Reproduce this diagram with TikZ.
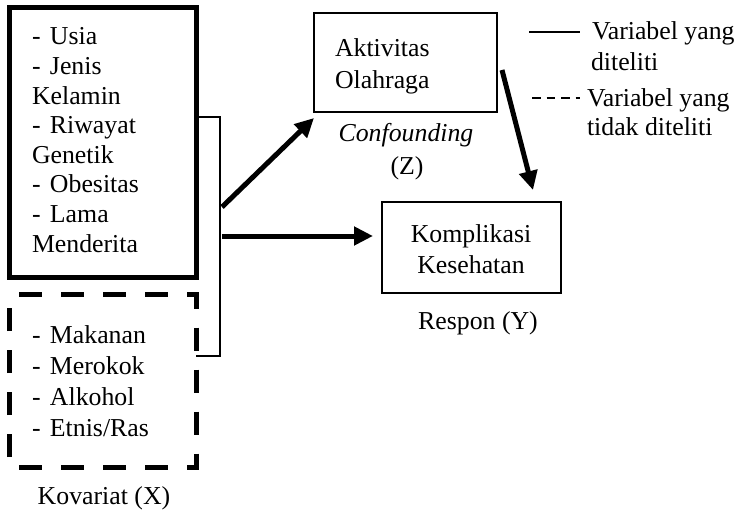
\documentclass[tikz,border=0pt]{standalone}
\usepackage{fontspec}
\setmainfont{Liberation Serif}
\usetikzlibrary{arrows.meta}
\begin{document}
\begin{tikzpicture}[x=1pt,y=-1pt,
  every node/.style={inner sep=0pt, outer sep=0pt},
  txt/.style={font=\fontsize{25.8}{30}\selectfont, anchor=base west},
  txtc/.style={font=\fontsize{25.8}{30}\selectfont, anchor=base},
  thickbox/.style={draw, line width=5pt, rectangle},
  dashbox/.style={line width=5pt, dash pattern=on 23pt off 19pt, dash phase=32.5pt},
  thinbox/.style={draw, line width=1.3pt, rectangle},
  thinline/.style={line width=1.3pt},
  legdash/.style={line width=1.3pt, dash pattern=on 8.5pt off 6pt},
  arr/.style={line width=5pt, -{Triangle[length=19pt,width=18pt]}},
]
\useasboundingbox (0,0) rectangle (744,513);

% boxes
\node[thickbox, minimum width=186.5pt, minimum height=269.5pt] (obs) at (102.75,142.25) {};
\node[minimum width=186.5pt, minimum height=172.5pt] (dbx) at (102.75,380.75) {};
\draw[dashbox] (dbx.north west) -- (dbx.north east) -- (dbx.south east) -- (dbx.south west) -- cycle;
\node[thinbox, minimum width=183pt, minimum height=99pt] (akt) at (405.5,62.5) {};
\node[thinbox, minimum width=179pt, minimum height=91pt] (kom) at (471.5,247.5) {};

% left box texts
\node[txt] (t1) at (32,45) {\makebox[18pt][l]{-}Usia};
\node[txt] (t2) at (32,74.6) {\makebox[18pt][l]{-}Jenis};
\node[txt] (t3) at (32,104.2) {Kelamin};
\node[txt] (t4) at (32,133.8) {\makebox[18pt][l]{-}Riwayat};
\node[txt] (t5) at (32,163.4) {Genetik};
\node[txt] (t6) at (32,193) {\makebox[18pt][l]{-}Obesitas};
\node[txt] (t7) at (32,222.6) {\makebox[18pt][l]{-}Lama};
\node[txt] (t8) at (32,252.2) {Menderita};

\node[txt] (d1) at (32,343) {\makebox[18pt][l]{-}Makanan};
\node[txt] (d2) at (32,374) {\makebox[18pt][l]{-}Merokok};
\node[txt] (d3) at (32,405) {\makebox[18pt][l]{-}Alkohol};
\node[txt] (d4) at (32,436) {\makebox[18pt][l]{-}Etnis/Ras};

\node[txtc] (kov) at (104,504) {Kovariat (X)};

% right texts
\node[txt] (a1t) at (335,57) {Aktivitas};
\node[txt] (a2t) at (335,89) {Olahraga};
\node[txtc] (conf) at (406,142) {\itshape Confounding};
\node[txtc] (zz) at (407,175) {(Z)};

\node[txtc] (k1) at (471,242) {Komplikasi};
\node[txtc] (k2) at (471,273) {Kesehatan};
\node[txtc] (resp) at (478,329) {Respon (Y)};

% legend
\coordinate (l1a) at (529,32);
\coordinate (l1b) at (580,32);
\coordinate (l2a) at (532,98);
\coordinate (l2b) at (580,98);
\draw[thinline] (l1a) -- (l1b);
\draw[legdash] (l2a) -- (l2b);
\node[txt] (g1) at (592,40) {Variabel yang};
\node[txt] (g2) at (591,71) {diteliti};
\node[txt] (g3) at (587,107) {Variabel yang};
\node[txt] (g4) at (587,136) {tidak diteliti};

% bracket
\coordinate (brtop) at (220,117);
\coordinate (brbot) at (220,356);
\draw[thinline] (obs.east |- brtop) -- (brtop) -- (brbot) -- (dbx.east |- brbot);

% arrows
\coordinate (s1) at (222,207);
\coordinate (s2) at (222,236);
\draw[arr] (s1) -- ([yshift=-6pt]akt.south west);
\draw[arr, shorten >=9pt] (s2) -- (s2 -| kom.west);
\draw[arr] ([xshift=5pt,yshift=-7.5pt]akt.east) -- ([xshift=-28pt,yshift=12pt]kom.north east);
\end{tikzpicture}
\end{document}
